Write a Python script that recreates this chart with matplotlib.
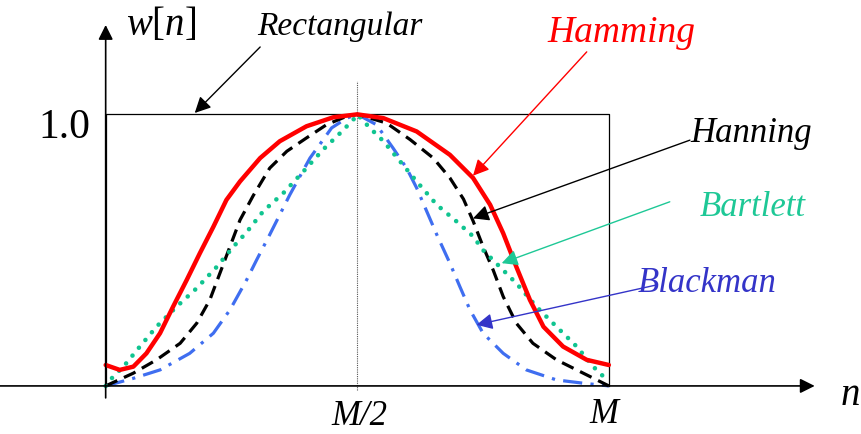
import matplotlib.pyplot as plt

plt.rcParams["mathtext.fontset"] = "custom"
plt.rcParams["mathtext.rm"] = "Liberation Serif"
plt.rcParams["mathtext.it"] = "Liberation Serif:italic"

# values, n in units of M, w[n] in units of 1.0
hamming_n = [0.0, 0.028, 0.055, 0.081, 0.108, 0.134, 0.161, 0.187, 0.214, 0.240,
             0.267, 0.307, 0.346, 0.399, 0.452, 0.5, 0.552, 0.618, 0.684, 0.730,
             0.764, 0.790, 0.816, 0.843, 0.870, 0.909, 0.956, 1.0]
hamming_w = [0.077, 0.059, 0.071, 0.120, 0.194, 0.292, 0.390, 0.488, 0.586, 0.685,
             0.753, 0.839, 0.901, 0.956, 0.989, 1.0, 0.986, 0.937, 0.851, 0.766,
             0.667, 0.562, 0.439, 0.317, 0.218, 0.145, 0.096, 0.077]

hanning_n = [0.0, 0.055, 0.101, 0.148, 0.181, 0.207, 0.227, 0.247, 0.267, 0.293,
             0.326, 0.360, 0.399, 0.439, 0.479, 0.5, 0.558, 0.605, 0.651, 0.684,
             0.711, 0.730, 0.750, 0.770, 0.790, 0.816, 0.849, 0.896, 0.949, 1.0]
hanning_w = [0.0, 0.047, 0.096, 0.157, 0.231, 0.317, 0.415, 0.513, 0.611, 0.700,
             0.802, 0.864, 0.913, 0.962, 0.993, 1.0, 0.968, 0.907, 0.839, 0.766,
             0.688, 0.608, 0.513, 0.427, 0.329, 0.231, 0.157, 0.096, 0.047, 0.0]

bartlett_n = [0.0, 0.012, 0.038, 0.068, 0.101, 0.141, 0.181, 0.221, 0.254, 0.280,
              0.313, 0.353, 0.393, 0.432, 0.466, 0.492, 0.5, 0.525, 0.552, 0.585,
              0.618, 0.658, 0.697, 0.730, 0.750, 0.783, 0.816, 0.856, 0.896, 0.936,
              0.969, 1.0]
bartlett_w = [0.0, 0.028, 0.077, 0.145, 0.218, 0.292, 0.360, 0.439, 0.513, 0.566,
              0.643, 0.710, 0.790, 0.870, 0.931, 0.980, 1.0, 0.950, 0.901, 0.827,
              0.753, 0.667, 0.606, 0.551, 0.500, 0.439, 0.378, 0.292, 0.218, 0.145,
              0.071, 0.015]

blackman_n = [0.0, 0.055, 0.108, 0.167, 0.214, 0.247, 0.280, 0.300, 0.326, 0.366,
              0.406, 0.449, 0.479, 0.5, 0.538, 0.571, 0.598, 0.618, 0.638, 0.658,
              0.684, 0.704, 0.724, 0.750, 0.790, 0.836, 0.896, 0.949, 1.0]
blackman_w = [0.0, 0.028, 0.059, 0.120, 0.194, 0.280, 0.390, 0.464, 0.557, 0.704,
              0.839, 0.950, 0.986, 1.0, 0.962, 0.876, 0.802, 0.729, 0.643, 0.557,
              0.452, 0.365, 0.280, 0.194, 0.120, 0.059, 0.022, 0.010, 0.0]

rect_n = [0.0, 0.0, 1.0, 1.0]
rect_w = [0.0, 1.0, 1.0, 0.0]

fig = plt.figure(figsize=(8.62, 4.34), dpi=100)
ax = fig.add_axes([0, 0, 1, 1])
ax.set_xlim(-0.210, 1.503)
ax.set_ylim(-0.177, 1.421)
ax.axis("off")

serif = "Liberation Serif"
ax_arrow = dict(arrowstyle="-|>", color="black", lw=1.2, mutation_scale=22,
                shrinkA=0, shrinkB=0)

# axes with arrow heads
ax.annotate("", xy=(1.409, 0), xytext=(-0.21, 0), arrowprops=ax_arrow)
ax.annotate("", xy=(0, 1.329), xytext=(0, -0.044), arrowprops=ax_arrow)
ax.plot([0.5, 0.5], [-0.015, 1.123], color="#555555", lw=0.8, ls=(0, (1, 1)))

ax.plot(rect_n, rect_w, color="black", lw=0.9)
ax.plot(blackman_n, blackman_w, color="#3f6ef0", lw=2.3, ls=(0, (6, 2.6, 1, 2.6)))
ax.plot(hanning_n, hanning_w, color="black", lw=2.3, ls=(0, (4, 2.3)))
ax.plot(bartlett_n, bartlett_w, color="#10c490", lw=3.3, ls=(0, (0.01, 2.2)),
        dash_capstyle="round")
ax.plot(hamming_n, hamming_w, color="#ff0000", lw=3.2, solid_capstyle="round",
        solid_joinstyle="round")

# labels
ax.text(0.110, 1.292, r"$w[n]$", fontsize=28, ha="center", va="baseline")
ax.text(-0.030, 0.914, "1.0", family=serif, fontsize=30, ha="right", va="baseline")
ax.text(0.505, -0.143, "M/2", family=serif, style="italic", fontsize=25,
        ha="center", va="baseline")
ax.text(0.991, -0.136, "M", family=serif, style="italic", fontsize=25,
        ha="center", va="baseline")
ax.text(1.479, -0.070, "n", family=serif, style="italic", fontsize=28,
        ha="center", va="baseline")

labels = [
    ("Rectangular", (0.466, 1.292), 24, "black", (0.307, 1.248), (0.177, 1.005)),
    ("Hamming", (1.025, 1.267), 27, "#ff0000", (0.956, 1.230), (0.730, 0.774)),
    ("Hanning", (1.283, 0.899), 25, "black", (1.161, 0.905), (0.730, 0.617)),
    ("Bartlett", (1.286, 0.626), 25, "#1ec896", (1.121, 0.678), (0.787, 0.452)),
    ("Blackman", (1.195, 0.347), 25, "#3434c8", (1.095, 0.372), (0.737, 0.225)),
]
for name, pos, size, color, start, tip in labels:
    ax.text(pos[0], pos[1], name, family=serif, style="italic", fontsize=size,
            color=color, ha="center", va="baseline")
    ax.annotate("", xy=tip, xytext=start,
                arrowprops=dict(arrowstyle="-|>", color=color, lw=1.0,
                                mutation_scale=24, shrinkA=0, shrinkB=0))

fig.savefig("out.png", dpi=100)
